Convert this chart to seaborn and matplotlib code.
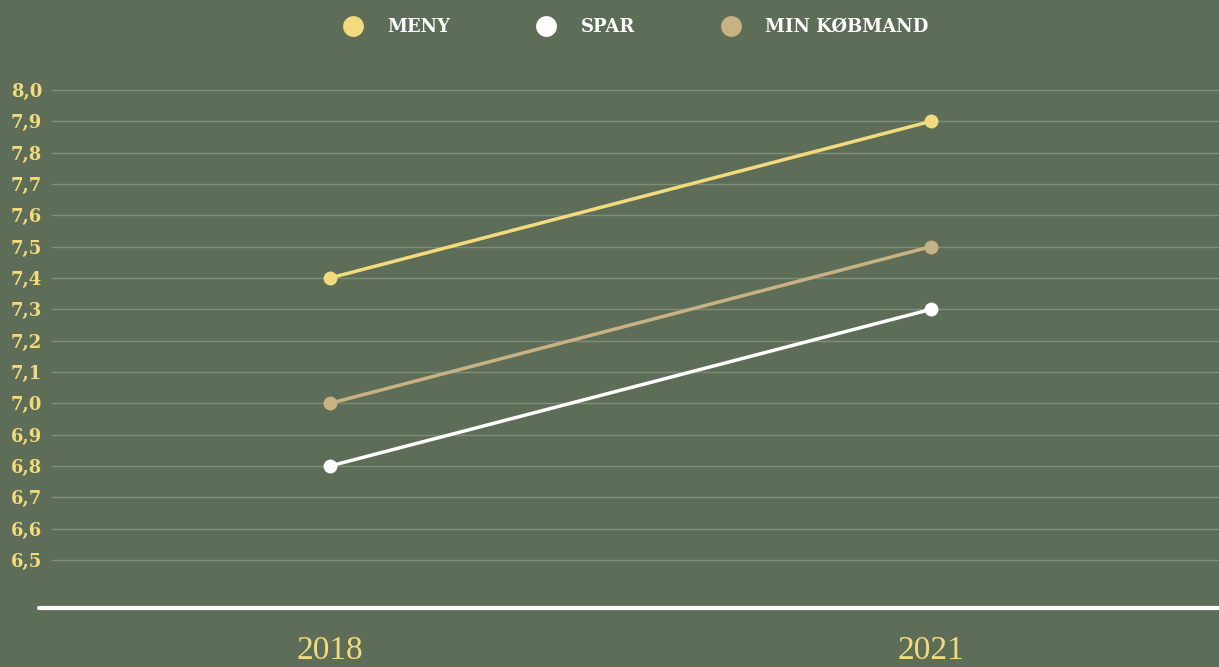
import pandas as pd
import matplotlib.pyplot as plt
import seaborn as sns
from matplotlib.lines import Line2D
from matplotlib.ticker import FuncFormatter

years = ['2018', '2021']
meny = [7.4, 7.9]
spar = [6.8, 7.3]
min_kobmand = [7.0, 7.5]
chains = ['MENY', 'SPAR', 'MIN KØBMAND']
colors = {'MENY': '#f2db7d', 'SPAR': '#ffffff', 'MIN KØBMAND': '#c8b283'}
yticks = [6.5, 6.6, 6.7, 6.8, 6.9, 7.0, 7.1, 7.2, 7.3, 7.4, 7.5, 7.6, 7.7, 7.8, 7.9, 8.0]

bg = '#5d6d57'
yellow = '#f2db7d'

df = pd.DataFrame({
    'year': years * 3,
    'score': meny + spar + min_kobmand,
    'chain': ['MENY'] * 2 + ['SPAR'] * 2 + ['MIN KØBMAND'] * 2,
})

sns.set_style('white')
fig = plt.figure(figsize=(12.19, 6.67), dpi=100, facecolor=bg)
ax = fig.add_axes([52 / 1219, 59 / 667, 1 - 52 / 1219, 533.7 / 667])
ax.set_facecolor(bg)

sns.lineplot(data=df, x='year', y='score', hue='chain', hue_order=chains,
             palette=colors, marker='o', markersize=10, markeredgewidth=0,
             linewidth=2.5, legend=False, ax=ax)

ax.set_xlim(-0.4626, 1.4792)
ax.set_ylim(6.3468, 8.05)
ax.set_yticks(yticks)
ax.yaxis.set_major_formatter(FuncFormatter(lambda v, p: f'{v:.1f}'.replace('.', ',')))
ax.grid(axis='y', color='#7f8e79', linewidth=1)
ax.grid(axis='x', visible=False)
ax.set_axisbelow(True)
for s in ax.spines.values():
    s.set_visible(False)
ax.set_xlabel('')
ax.set_ylabel('')
ax.tick_params(axis='y', length=0, pad=7, labelcolor=yellow)
ax.tick_params(axis='x', length=0, pad=20, labelcolor=yellow)
for t in ax.get_yticklabels():
    t.set_fontfamily('DejaVu Serif')
    t.set_fontweight('bold')
    t.set_fontsize(13)
for t in ax.get_xticklabels():
    t.set_fontfamily('Liberation Serif')
    t.set_fontsize(24)

# white baseline
fig.add_artist(Line2D([39 / 1219, 1.0], [59 / 667, 59 / 667], color='white', linewidth=3))

handles = [Line2D([], [], marker='o', linestyle='', markersize=15,
                  markerfacecolor=colors[c], markeredgewidth=0) for c in chains]
leg = fig.legend(handles, chains, loc='center', bbox_to_anchor=(0.522, 1 - 27 / 667),
                 ncol=3, frameon=False, handlelength=1.0, handletextpad=1.4,
                 columnspacing=4.8,
                 prop={'family': 'DejaVu Serif', 'weight': 'bold', 'size': 13})
for t in leg.get_texts():
    t.set_color('white')

fig.savefig('out.png', dpi=100, facecolor=bg)
